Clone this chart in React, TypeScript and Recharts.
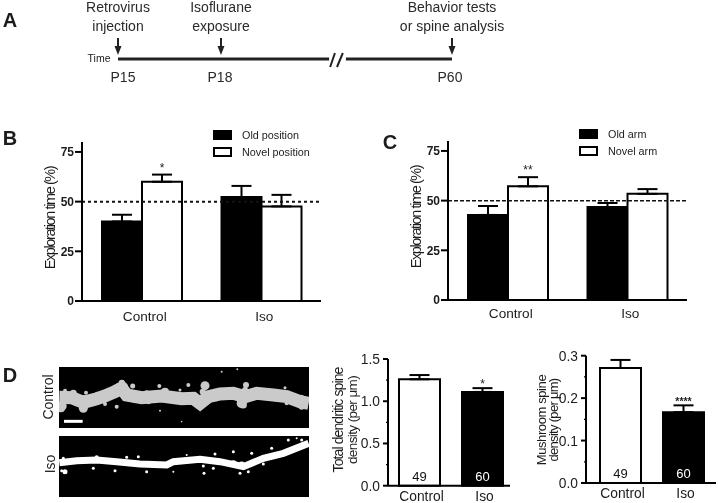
import React from "react";
import {
  BarChart, Bar, XAxis, YAxis, ErrorBar, ReferenceLine, LabelList, Legend, Cell, Label,
  ComposedChart, Line, Scatter,
} from "recharts";

const FONT = '"Liberation Sans", Arial, sans-serif';
const INK = "#1c1c1c";

// Panel A
const stops = [
  { x: 0, y: 1, top: ["Retrovirus", "injection"], day: "P15", dayDx: 5 },
  { x: 3, y: 1, top: ["Isoflurane", "exposure"], day: "P18", dayDx: -1 },
  { x: 9.73, y: 1, top: ["Behavior tests", "or spine analysis"], day: "P60", dayDx: -2 },
];
const lineBefore = [{ x: 0, y: 1 }, { x: 6.15, y: 1 }];
const lineAfter = [{ x: 6.64, y: 1 }, { x: 9.73, y: 1 }];

// Panels B, C
const groups = ["Control", "Iso"];
const bOld = [40, 52.3];
const bOldErr = [3.4, 5.6];
const bNovel = [60, 47.6];
const bNovelErr = [3.6, 5.8];
const bMarks = ["*", ""];
const cOld = [42.8, 46.8];
const cOldErr = [4.5, 2];
const cNovel = [57.2, 53.4];
const cNovelErr = [4.6, 2.4];
const cMarks = ["**", ""];

// Panel D
const densityGroups = ["Control", "Iso"];
const totalDensity = [1.26, 1.11];
const totalErr = [0.05, 0.045];
const totalMarks = ["", "*"];
const mushDensity = [0.271, 0.167];
const mushErr = [0.019, 0.016];
const mushMarks = ["", "****"];
const counts = ["49", "60"];
const densityFills = ["#fff", "#000"];
const countFills = ["#111", "#fff"];
const totalTicks = [0, 0.25, 0.5, 0.75, 1, 1.25, 1.5];
const mushTicks = [0, 0.05, 0.1, 0.15, 0.2, 0.25, 0.3];

// Panel D micrographs
const controlShaft = [[178,172],[215,173],[250,187],[285,178],[315,168],[345,155],[365,145],[380,165],[425,173],[485,168],[545,176],[580,175],[600,190],[625,170],[660,162],[700,160],[735,170],[770,160],[820,165],[860,170],[900,185],[926,190]];
const controlSpines = [[185,198,5],[183,205,4],[250,205,4.5],[195,152,2],[258,158,2],[290,160,1.5],[365,128,3],[358,140,4],[372,140,4],[398,138,2.5],[478,138,2],[495,155,4],[565,135,2],[615,137,4.5],[608,155,3],[540,150,1.5],[738,135,3],[735,150,3],[855,143,1.5],[780,155,2],[350,200,2],[315,192,2],[283,190,2],[725,190,5],[730,195,3.5],[860,190,2],[905,200,3],[665,95,1],[712,88,1],[480,212,1],[545,245,0.8],[602,195,3],[445,185,2.5],[405,180,3],[600,200,2.5],[330,165,4],[220,160,3.5],[700,155,3],[905,170,2],[880,172,3.5],[440,160,3],[500,172,3],[560,185,2.5],[650,175,3]];
const scaleBar = [[192,244],[248,244]];
const isoShaft = [[178,368],[230,362],[290,360],[350,365],[420,372],[500,375],[520,365],[600,358],[660,365],[730,380],[790,355],[850,340],[926,310]];
const isoSpines = [[190,355,1.5],[195,395,2.5],[185,392,1.5],[290,352,2],[380,352,1.5],[415,350,1.5],[440,395,1.5],[345,392,1.5],[280,385,1.5],[520,395,1],[560,345,1],[610,378,1.5],[645,342,1.5],[612,400,1.5],[700,335,1.5],[720,400,1.5],[745,395,1.5],[815,325,1.5],[865,300,1.5],[905,300,1.5],[890,295,1],[790,372,1.5],[755,340,1.5],[640,385,1.5],[700,371,3.5],[725,375,3.5]];

const toPoints = (rows: number[][]) => rows.map(([x, y, r]) => ({ x, y, r }));
const table = (old: number[], oldErr: number[], novel: number[], novelErr: number[], marks: string[]) =>
  groups.map((group, i) => ({
    group, old: old[i], oldErr: [0, oldErr[i]], novel: novel[i], novelErr: [0, novelErr[i]], mark: marks[i], markErr: novelErr[i],
  }));

function Txt({ x, y, size = 14, bold, rotate, children, color = INK }: any) {
  return (
    <div style={{
      position: "absolute", left: x, top: y, transform: `translate(-50%,-50%)${rotate ? ` rotate(${rotate}deg)` : ""}`,
      fontFamily: FONT, fontSize: size, fontWeight: bold ? 700 : 400, color, whiteSpace: "nowrap", lineHeight: 1,
    }}>{children}</div>
  );
}

const markLabel = (errs: number[], k: number, lift: number, size: number, bold = false) => (p: any) => {
  if (!p.value) return null;
  return (
    <text x={p.x + p.width / 2} y={p.y - errs[p.index] * k - lift} textAnchor="middle"
      fontFamily={FONT} fontSize={size} fontWeight={bold ? 700 : 400} fill={INK}>{p.value}</text>
  );
};

const legendContent = (rowGap: number, swatch: number, gapText: number) => (p: any) => (
  <div style={{ position: "relative", fontFamily: FONT, fontSize: 10.8, color: INK }}>
    {p.payload.map((e: any, i: number) => (
      <div key={e.value} style={{ position: "absolute", top: i * rowGap, left: 0, display: "flex", alignItems: "center", height: 10, whiteSpace: "nowrap" }}>
        <span style={{ width: swatch, height: 10, boxSizing: "border-box", background: i === 0 ? "#000" : "#fff", border: "2px solid #000", marginRight: gapText, display: "inline-block" }} />
        {e.value}
      </div>
    ))}
  </div>
);

const vLabel = (x: number, y: number, text: string, size: number, spacing: number, bold = false) => () => (
  <text x={x} y={y} transform={`rotate(-90 ${x} ${y})`} textAnchor="middle" dominantBaseline="central"
    fontFamily={FONT} fontSize={size} letterSpacing={spacing} fontWeight={bold ? 700 : 400} fill={INK}>{text}</text>
);

function ExploreChart({ left, top, data, labels, refStroke, refDash, marks, xDx, labelX, labelY, legendLeft, legendTop, rowGap, gapText, tickY }: any) {
  return (
    <div style={{ position: "absolute", left, top }}>
      <BarChart width={300} height={200} data={data} barGap={0} barSize={40} barCategoryGap={20}
        margin={{ top: 12, right: 9, bottom: 0, left: 0 }}>
        <XAxis dataKey="group" height={29} tickLine={false} tickSize={0} tickMargin={tickY} interval={0}
          axisLine={{ stroke: "#000", strokeWidth: 2 }} tick={{ fill: INK, fontSize: 13.6, fontFamily: FONT, dx: xDx }} />
        <YAxis width={52} domain={[0, 80]} ticks={[0, 25, 50, 75]} interval={0} tickSize={7} tickMargin={1}
          axisLine={{ stroke: "#000", strokeWidth: 2 }} tickLine={{ stroke: "#000", strokeWidth: 2 }}
          tick={{ fill: INK, fontSize: 12, fontWeight: 700, fontFamily: FONT }}>
          <Label content={vLabel(labelX, labelY, "Exploration time (%)", 14.5, -1.4)} />
        </YAxis>
        <Legend layout="vertical" align="center" verticalAlign="top" itemSorter={null}
          wrapperStyle={{ left: legendLeft, top: legendTop, width: 120 }} content={legendContent(rowGap, 19, 10)} />
        <Bar dataKey="old" name={labels[0]} fill="#000" stroke="#000" strokeWidth={2} isAnimationActive={false}>
          <ErrorBar dataKey="oldErr" direction="y" width={10} stroke="#000" strokeWidth={2} isAnimationActive={false} />
        </Bar>
        <Bar dataKey="novel" name={labels[1]} fill="#fff" stroke="#000" strokeWidth={2} isAnimationActive={false}>
          <ErrorBar dataKey="novelErr" direction="y" width={10} stroke="#000" strokeWidth={2} isAnimationActive={false} />
          <LabelList dataKey="mark" content={markLabel(marks, 2, 3, 12)} />
        </Bar>
        <ReferenceLine y={50} stroke="#111" strokeWidth={refStroke} strokeDasharray={refDash} />
      </BarChart>
    </div>
  );
}

function DensityChart({ left, width, values, errs, marks, ticks, domain, fmtMajor, marginTop, xHeight, yWidth, marginRight, padding, k, lift, markSize, markBold, textMargin, xDx, labelNodes }: any) {
  const data = densityGroups.map((group, i) => ({ group, v: values[i], e: [0, errs[i]], mark: marks[i], n: counts[i] }));
  const tick = (p: any) => {
    const major = fmtMajor.includes(p.payload.value);
    return (
      <g>
        <line x1={p.x} x2={p.x - (major ? 5 : 2)} y1={p.y} y2={p.y} stroke="#000" strokeWidth={major ? 2 : 1.2} />
        {major && (
          <text x={p.x - 8} y={p.y} dy={5} textAnchor="end" fontFamily={FONT} fontSize={13.8} fill={INK}>{p.payload.value.toFixed(1)}</text>
        )}
      </g>
    );
  };
  return (
    <div style={{ position: "absolute", left, top: 345 }}>
      <BarChart width={width} height={158} data={data} barSize={41}
        margin={{ top: marginTop, right: marginRight, bottom: 0, left: 0 }}>
        <XAxis dataKey="group" height={xHeight} tickLine={false} tickSize={0} tickMargin={textMargin} interval={0} padding={padding}
          axisLine={{ stroke: "#000", strokeWidth: 2 }} tick={{ fill: INK, fontSize: 13.8, fontFamily: FONT, dx: xDx }} />
        <YAxis width={yWidth} domain={domain} ticks={ticks} interval={0} tickSize={0} tickMargin={0} tickLine={false}
          axisLine={{ stroke: "#000", strokeWidth: 2 }} tick={tick}>
          <Label content={labelNodes[0]} />
          <Label content={labelNodes[1]} />
        </YAxis>
        <Bar dataKey="v" stroke="#000" strokeWidth={2} isAnimationActive={false}>
          {data.map((d, i) => <Cell key={d.group} fill={densityFills[i]} />)}
          <ErrorBar dataKey="e" direction="y" width={10} stroke="#000" strokeWidth={2} isAnimationActive={false} />
          <LabelList dataKey="mark" content={markLabel(errs, k, lift, markSize, markBold)} />
          <LabelList dataKey="n" content={(p: any) => (
            <text x={p.x + p.width / 2} y={p.y + p.height - 5} textAnchor="middle" fontFamily={FONT} fontSize={13} fill={countFills[p.index]}>{p.value}</text>
          )} />
        </Bar>
      </BarChart>
    </div>
  );
}

function Micrograph({ top, shaft, spines, yDomain, width, color, bar }: any) {
  return (
    <div style={{ position: "absolute", left: 59, top, filter: "blur(0.6px)" }}>
      <ComposedChart width={250} height={61} margin={{ top: 0, right: 0, bottom: 0, left: 0 }} style={{ background: "#000" }}>
        <XAxis hide type="number" dataKey="x" domain={[177, 927]} allowDataOverflow />
        <YAxis hide type="number" dataKey="y" domain={yDomain} reversed allowDataOverflow />
        <Line data={toPoints(shaft)} dataKey="y" type="linear" stroke={color} strokeWidth={width} dot={false} isAnimationActive={false} />
        <Scatter data={toPoints(spines)} fill={color} isAnimationActive={false}
          shape={(p: any) => <circle cx={p.cx} cy={p.cy} r={p.payload.r} fill={color} />} />
        {bar && <ReferenceLine segment={toPoints(bar)} stroke="#fff" strokeWidth={3} />}
      </ComposedChart>
    </div>
  );
}

function Timeline() {
  const stop = (p: any) => {
    const d = p.payload;
    const textProps = { fontFamily: FONT, fontSize: 14, fill: "#2a2a2a", textAnchor: "middle" as const };
    return (
      <g>
        <line x1={p.cx} x2={p.cx} y1={38} y2={47} stroke="#222" strokeWidth={2} />
        <path d={`M${p.cx - 3.5} 46 L${p.cx + 3.5} 46 L${p.cx} 55 Z`} fill="#222" />
        <text {...textProps} x={p.cx} y={12}>{d.top[0]}</text>
        <text {...textProps} x={p.cx} y={31}>{d.top[1]}</text>
        <text {...textProps} x={p.cx + d.dayDx} y={82}>{d.day}</text>
      </g>
    );
  };
  return (
    <div style={{ position: "absolute", left: 0, top: 0 }}>
      <ComposedChart width={718} height={110} margin={{ top: 49, right: 266, bottom: 41, left: 118 }}>
        <XAxis hide type="number" dataKey="x" domain={[0, 9.73]} />
        <YAxis hide type="number" dataKey="y" domain={[0, 2]} />
        <Line data={lineBefore} dataKey="y" stroke="#222" strokeWidth={3} dot={false} isAnimationActive={false} />
        <Line data={lineAfter} dataKey="y" stroke="#222" strokeWidth={3} dot={false} isAnimationActive={false} />
        <ReferenceLine segment={[{ x: 6.18, y: 0.2 }, { x: 6.32, y: 1.6 }]} stroke="#222" strokeWidth={2} />
        <ReferenceLine segment={[{ x: 6.38, y: 0.2 }, { x: 6.55, y: 1.6 }]} stroke="#222" strokeWidth={2} />
        <Scatter data={stops} isAnimationActive={false} shape={stop} />
      </ComposedChart>
    </div>
  );
}

export default function App() {
  return (
    <div style={{ position: "absolute", left: 0, top: 0, width: 718, height: 503, background: "#fff", overflow: "hidden", filter: "blur(0.3px)" }}>
      <Timeline />
      <Txt x={99} y={58} size={10.5}>Time</Txt>
      <Txt x={10} y={20} size={20} bold>A</Txt>
      <Txt x={10} y={138} size={20} bold>B</Txt>
      <Txt x={390} y={142} size={20} bold>C</Txt>
      <Txt x={10} y={375} size={20} bold>D</Txt>

      <ExploreChart left={30} top={130} data={table(bOld, bOldErr, bNovel, bNovelErr, bMarks)}
        labels={["Old position", "Novel position"]} refStroke={2} refDash="3 3" marks={[bNovelErr[0], 0]}
        xDx={3} labelX={20} labelY={88} legendLeft={183} legendTop={0} rowGap={17} gapText={10} tickY={10} />
      <ExploreChart left={396} top={129.3} data={table(cOld, cOldErr, cNovel, cNovelErr, cMarks)}
        labels={["Old arm", "Novel arm"]} refStroke={1.5} refDash="4 2" marks={[cNovelErr[0], 0]}
        xDx={3} labelX={20} labelY={88} legendLeft={183} legendTop={0} rowGap={17} gapText={10} tickY={8} />

      <Micrograph top={367} shaft={controlShaft} spines={controlSpines} yDomain={[81, 264]} width={13} color="#cacaca" bar={scaleBar} />
      <Micrograph top={436} shaft={isoShaft} spines={isoSpines} yDomain={[288, 471]} width={7} color="#fff" />
      <Txt x={48} y={397} rotate={-90}>Control</Txt>
      <Txt x={50} y={464} rotate={-90}>Iso</Txt>

      <DensityChart left={325} width={193} values={totalDensity} errs={totalErr} marks={totalMarks} ticks={totalTicks}
        domain={[0, 1.5]} fmtMajor={[0, 0.5, 1, 1.5]} marginTop={14} xHeight={17.3} yWidth={63} marginRight={8}
        padding={{ left: 0, right: -4 }} k={84.4} lift={0} markSize={12} textMargin={6} xDx={2}
        labelNodes={[vLabel(13, 75, "Total dendritic spine", 14, -0.9), vLabel(27, 75, "density (per μm)", 13.5, -0.6)]} />
      <DensityChart left={530} width={188} values={mushDensity} errs={mushErr} marks={mushMarks} ticks={mushTicks}
        domain={[0, 0.3]} fmtMajor={[0, 0.1, 0.2, 0.3]} marginTop={10.7} xHeight={20} yWidth={56} marginRight={2}
        padding={{ left: 3, right: 1 }} k={424} lift={0} markSize={10.5} markBold textMargin={5} xDx={2}
        labelNodes={[vLabel(11, 75, "Mushroom spine", 13, -0.4), vLabel(23, 75, "density (per μm)", 13, -0.7)]} />
    </div>
  );
}
